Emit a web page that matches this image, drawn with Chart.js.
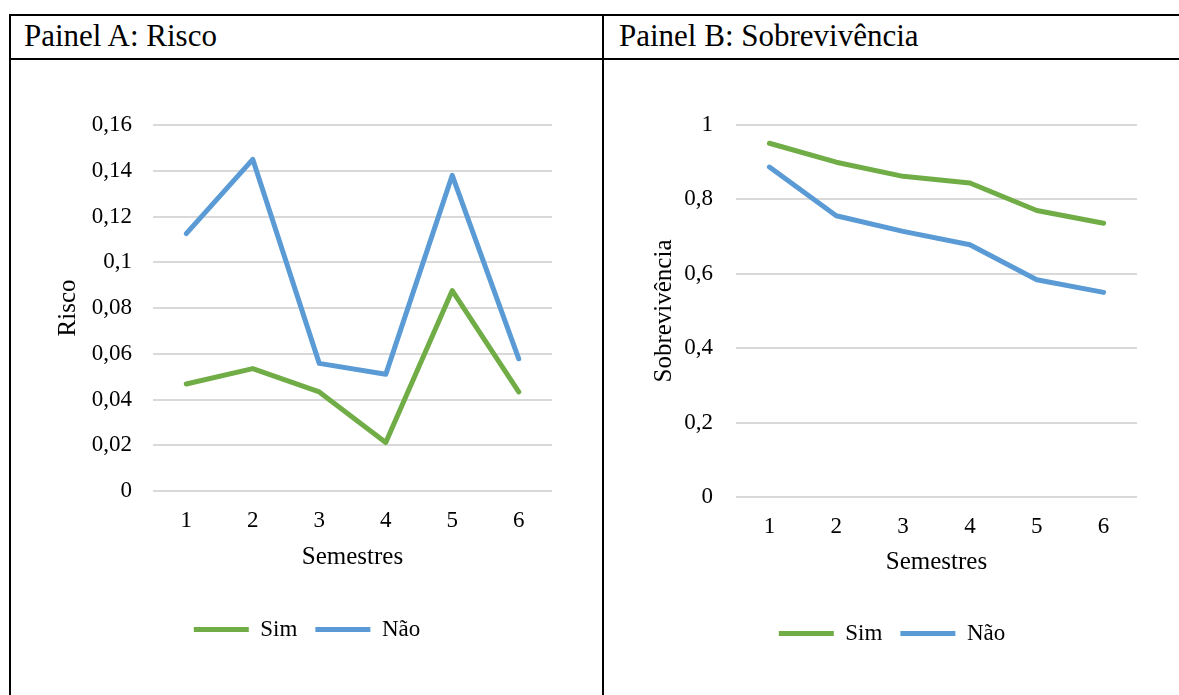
<!DOCTYPE html>
<html>
<head>
<meta charset="utf-8">
<script src="https://cdn.jsdelivr.net/npm/chart.js@4"></script>
<style>
  body { margin: 0; background: #fff; width: 1179px; height: 695px; overflow: hidden; position: relative; font-family: "Liberation Serif", "Times New Roman", serif; }
  .ln { position: absolute; background: #000; z-index: 2; }
  .hdr { position: absolute; top: 20px; font-family: "Liberation Serif", serif; font-size: 31px; line-height: 31px; color: #000; white-space: nowrap; }
  .box { position: absolute; top: 61px; height: 634px; }
</style>
</head>
<body>
<div class="ln" style="left:9px; top:14px; right:0; height:2px"></div>
<div class="ln" style="left:9px; top:58px; right:0; height:2px"></div>
<div class="ln" style="left:9px; top:14px; bottom:0; width:2px"></div>
<div class="ln" style="left:602px; top:14px; bottom:0; width:2px"></div>
<div class="hdr" style="left:24px">Painel A: Risco</div>
<div class="hdr" style="left:619px">Painel B: Sobrevivência</div>

<div class="box" style="left:12px; width:590px"><canvas id="chartA"></canvas></div>
<div class="box" style="left:605px; width:574px"><canvas id="chartB"></canvas></div>

<script>
const semestres = ['1', '2', '3', '4', '5', '6'];
const riscoSim = [0.0468, 0.0535, 0.0433, 0.0212, 0.0876, 0.0433];
const riscoNao = [0.1125, 0.145, 0.0558, 0.051, 0.138, 0.0578];
const sobrevSim = [0.951, 0.900, 0.862, 0.844, 0.770, 0.736];
const sobrevNao = [0.887, 0.756, 0.714, 0.678, 0.584, 0.550];

const verde = '#70AD47';
const azul = '#5B9BD5';
const fonte = '"Liberation Serif", serif';

Chart.defaults.font.family = fonte;
Chart.defaults.color = '#000';

// formats 0.06 as "0,06"
const virgula = (v) => String(Math.round(v * 1000) / 1000).replace('.', ',');

function linha(label, data, color) {
  return {
    label: label,
    data: data,
    borderColor: color,
    backgroundColor: color,
    borderWidth: 5,
    borderCapStyle: 'round',
    borderJoinStyle: 'round',
    pointRadius: 0,
    tension: 0
  };
}

function painel(canvasId, sim, nao, yTitle, yMax, yStep, lay) {
  return new Chart(document.getElementById(canvasId), {
    type: 'line',
    data: {
      labels: semestres,
      datasets: [linha('Sim', sim, verde), linha('Não', nao, azul)]
    },
    options: {
      responsive: true,
      maintainAspectRatio: false,
      animation: false,
      layout: { padding: { top: 64, right: 0, bottom: lay.bottom, left: 0 } },
      plugins: {
        tooltip: { enabled: false },
        legend: {
          position: 'bottom',
          labels: {
            usePointStyle: true,
            pointStyle: 'line',
            pointStyleWidth: 55,
            padding: 18,
            color: '#000',
            font: { family: fonte, size: 23 }
          }
        }
      },
      scales: {
        x: {
          offset: true,
          grid: { display: false, drawTicks: false },
          border: { display: false },
          ticks: { color: '#000', padding: 16, font: { family: fonte, size: 23 } },
          title: {
            display: true,
            text: 'Semestres',
            color: '#000',
            font: { family: fonte, size: 25 },
            padding: { top: 0, bottom: lay.titleBottom }
          },
          // fixed height, and room on the right kept free of the plot
          afterFit: (scale) => {
            scale.height = lay.xHeight;
            scale.paddingRight = lay.right;
          }
        },
        y: {
          min: 0,
          max: yMax,
          grid: { color: '#d9d9d9', lineWidth: 2, drawTicks: false },
          border: { display: false },
          ticks: {
            stepSize: yStep,
            color: '#000',
            padding: lay.tickPad,
            font: { family: fonte, size: 23 },
            callback: (v) => virgula(v)
          },
          title: {
            display: true,
            text: yTitle,
            color: '#000',
            font: { family: fonte, size: 25 },
            padding: { top: lay.yTitleTop, bottom: 0 }
          },
          afterFit: (scale) => { scale.width = lay.yWidth; }
        }
      }
    }
  });
}

painel('chartA', riscoSim, riscoNao, 'Risco', 0.16, 0.02,
  { right: 50, bottom: 44, xHeight: 109, titleBottom: 28, yWidth: 141, tickPad: 21, yTitleTop: 41 });
painel('chartB', sobrevSim, sobrevNao, 'Sobrevivência', 1, 0.2,
  { right: 42, bottom: 40, xHeight: 107, titleBottom: 27, yWidth: 131, tickPad: 23, yTitleTop: 44 });
</script>
</body>
</html>
